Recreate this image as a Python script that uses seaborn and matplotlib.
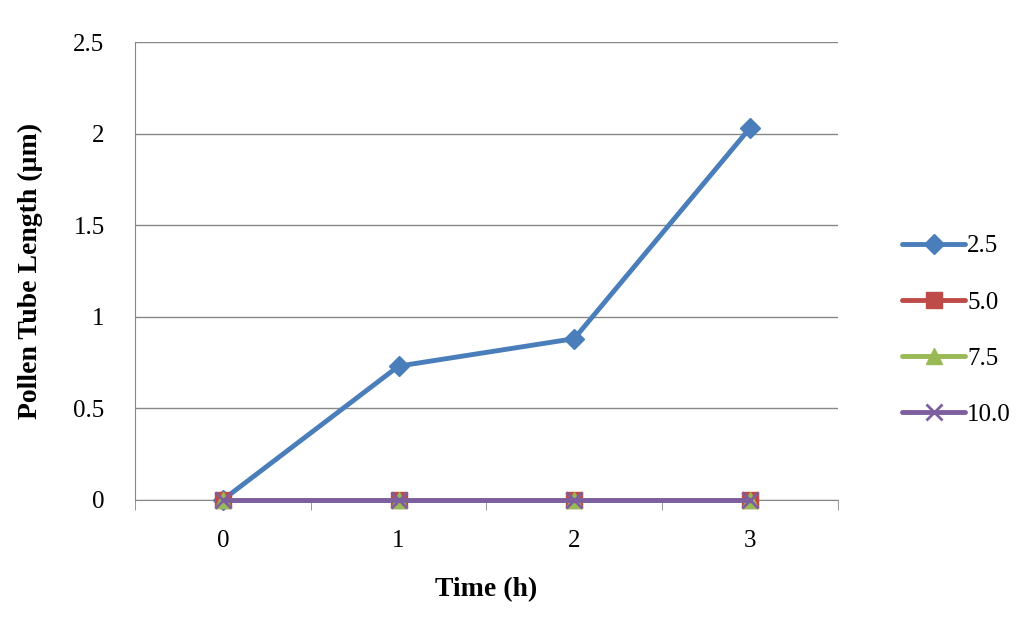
import matplotlib
matplotlib.use("Agg")
import matplotlib.pyplot as plt
import seaborn as sns
import pandas as pd

sns.set_style("white")
plt.rcParams['font.family'] = ['Liberation Serif', 'DejaVu Serif']
plt.rcParams['text.color'] = 'black'
plt.rcParams['xtick.color'] = 'black'
plt.rcParams['ytick.color'] = 'black'
plt.rcParams['axes.labelcolor'] = 'black'

times = [0, 1, 2, 3]
series_names = ["2.5", "5.0", "7.5", "10.0"]
s25 = [0.0, 0.73, 0.88, 2.03]
s50 = [0.0, 0.0, 0.0, 0.0]
s75 = [0.0, 0.0, 0.0, 0.0]
s100 = [0.0, 0.0, 0.0, 0.0]

colors = ["#4A7EBB", "#BE4B48", "#98B954", "#7D5FA0"]
markers = ["D", "s", "^", "x"]
sizes = [10, 11, 11, 11]

fig = plt.figure(figsize=(10.24, 6.2), dpi=100)
ax = fig.add_axes([0.132, 0.194, 0.686, 0.738])

for name, vals, c, m, ms in zip(series_names, [s25, s50, s75, s100], colors, markers, sizes):
    df = pd.DataFrame({"t": times, "v": vals})
    sns.lineplot(data=df, x="t", y="v", ax=ax, color=c, linewidth=3.5, marker=m,
                 markersize=ms, markeredgecolor=c, markeredgewidth=2 if m == "x" else 1,
                 label=name, clip_on=False, zorder=3)

ax.set_xlim(-0.5, 3.5)
ax.set_ylim(0, 2.5)
ax.set_xticks(times)
ax.set_xticklabels([str(t) for t in times])
ax.set_yticks([0, 0.5, 1, 1.5, 2, 2.5])
ax.set_yticklabels(["0", "0.5", "1", "1.5", "2", "2.5"])
ax.tick_params(axis="x", labelsize=18, length=0, pad=22)
ax.tick_params(axis="y", labelsize=18, length=0, pad=22)
ax.yaxis.grid(True, color="#878787", linewidth=1)
for s in ["top", "right"]:
    ax.spines[s].set_visible(False)
ax.spines["left"].set_color("#878787")
ax.spines["bottom"].set_color("#878787")
ax.set_xlabel("Time (h)", fontsize=20, fontweight="bold", labelpad=18)
ax.set_ylabel("Pollen Tube Length (µm)", fontsize=20, fontweight="bold", labelpad=22)
ax.set_xticks([-0.5, 0.5, 1.5, 2.5, 3.5], minor=True)
ax.tick_params(axis="x", which="minor", length=7, color="#878787", direction="out")
ax.tick_params(axis="x", which="minor", bottom=True)

leg = ax.legend(loc="center left", bbox_to_anchor=(1.06, 0.37), frameon=False,
                fontsize=18, handlelength=2.5, labelspacing=1.35, handletextpad=0.1)

fig.savefig("out.png", dpi=100)
